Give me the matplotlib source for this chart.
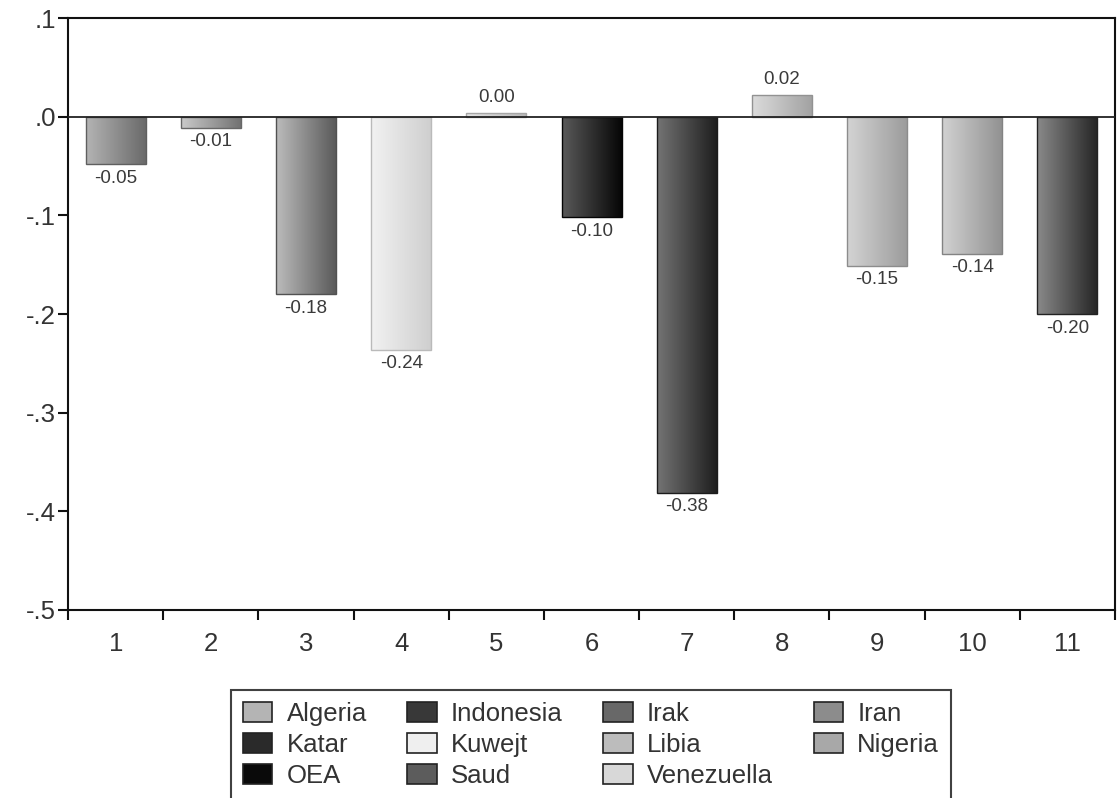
import matplotlib.pyplot as plt
import matplotlib.patches as mpatches
import numpy as np
from matplotlib.colors import LinearSegmentedColormap, to_rgb
from matplotlib.ticker import FuncFormatter, FixedLocator

plt.rcParams['font.family'] = ['Liberation Sans', 'DejaVu Sans']

# bar values, one per period
periods = ['1', '2', '3', '4', '5', '6', '7', '8', '9', '10', '11']
values = [-0.048, -0.011, -0.180, -0.236, 0.004, -0.102, -0.381, 0.022, -0.151, -0.139, -0.200]

# left (light) and right (dark) shades of each bar
bar_light = ['#b4b4b4', '#cacaca', '#bcbcbc', '#f2f2f2', '#e4e4e4', '#5a5a5a',
             '#747474', '#dcdcdc', '#d4d4d4', '#d2d2d2', '#8a8a8a']
bar_dark = ['#6a6a6a', '#727272', '#5a5a5a', '#cfcfcf', '#b8b8b8', '#060606',
            '#1e1e1e', '#a2a2a2', '#9c9c9c', '#929292', '#262626']

countries = ['Algeria', 'Indonesia', 'Irak', 'Iran', 'Katar', 'Kuwejt',
             'Libia', 'Nigeria', 'OEA', 'Saud', 'Venezuella']
swatch = ['#b4b4b4', '#383838', '#686868', '#8c8c8c', '#2a2a2a', '#efefef',
          '#bcbcbc', '#a8a8a8', '#0a0a0a', '#5c5c5c', '#d8d8d8']

fig = plt.figure(figsize=(11.17, 7.98), dpi=100)
ax = fig.add_axes([0.061, 0.2356, 0.9372, 0.7418])

x = np.arange(1, len(values) + 1)
width = 0.63
edges = [tuple(c * 0.9 for c in to_rgb(d)) for d in bar_dark]
bars = ax.bar(x, values, width=width, color='none', edgecolor=edges, linewidth=1, zorder=3)

grad = np.linspace(0, 1, 256).reshape(1, -1)
for i, b in enumerate(bars):
    cmap = LinearSegmentedColormap.from_list('g%d' % i, [bar_light[i], bar_dark[i]])
    x0 = b.get_x()
    y0, y1 = sorted([0, values[i]])
    im = ax.imshow(grad, cmap=cmap, aspect='auto', extent=[x0, x0 + width, y0, y1],
                   zorder=2, interpolation='bilinear')
    im.set_clip_path(b)

for xi, v in zip(x, values):
    if v < 0:
        ax.annotate('%.2f' % v, (xi, v), xytext=(0, -4), textcoords='offset points',
                    ha='center', va='top', fontsize=13.5, color='#3a3a3a')
    else:
        ax.annotate('%.2f' % v, (xi, v), xytext=(0, 5), textcoords='offset points',
                    ha='center', va='bottom', fontsize=13.5, color='#3a3a3a')

ax.axhline(0, color='#222222', linewidth=1.3, zorder=4)

ax.set_xlim(0.5, 11.5)
ax.set_ylim(-0.5, 0.1)
ax.set_yticks([0.1, 0.0, -0.1, -0.2, -0.3, -0.4, -0.5])
ax.yaxis.set_major_formatter(FuncFormatter(lambda v, p: ('%.1f' % v).replace('0.', '.') if abs(v) > 1e-9 else '.0'))

# ticks at category boundaries, labels at category centres
ax.xaxis.set_major_locator(FixedLocator(np.arange(0.5, 12, 1)))
ax.xaxis.set_major_formatter(FuncFormatter(lambda v, p: ''))
ax.set_xticks(x, periods, minor=True)
ax.tick_params(axis='x', which='major', direction='out', length=7, width=1.5, color='#111111')
ax.tick_params(axis='x', which='minor', length=0, pad=16, labelsize=18.5, labelcolor='#333333')
ax.tick_params(axis='y', direction='out', length=7, width=1.5, color='#111111',
               labelsize=18.5, labelcolor='#333333', pad=2)

for s in ax.spines.values():
    s.set_linewidth(1.5)
    s.set_color('#111111')

handles = [mpatches.Patch(facecolor=c, edgecolor='#222222', linewidth=1.2, label=n)
           for n, c in zip(countries, swatch)]
# legend fills column by column, so reorder to read row by row
order = [0, 4, 8, 1, 5, 9, 2, 6, 10, 3, 7]
leg = fig.legend([handles[i] for i in order], [countries[i] for i in order],
                 ncol=4, loc='upper left', bbox_to_anchor=(0.207, 0.0, 0.644, 0.135),
                 mode='expand', fontsize=18.5, frameon=True, fancybox=False,
                 edgecolor='#111111', handlelength=1.15, handleheight=0.8,
                 handletextpad=0.55, labelspacing=0.28, borderpad=0.45,
                 borderaxespad=0)
leg.get_frame().set_linewidth(1.5)
for t in leg.get_texts():
    t.set_color('#333333')

fig.savefig('out.png', dpi=100)
